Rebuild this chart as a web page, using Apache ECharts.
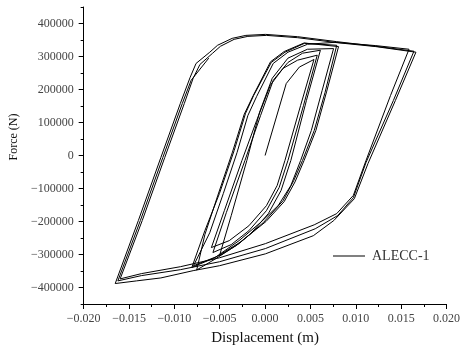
<!DOCTYPE html>
<html><head><meta charset="utf-8">
<script src="https://cdn.jsdelivr.net/npm/echarts@6/dist/echarts.min.js"></script>
<style>html,body{margin:0;padding:0;background:#fff}#c{width:463px;height:353px}</style>
</head><body><div id="c"></div>
<script>
// ---- data (displacement m, force N) ----
const seriesName = 'ALECC-1';
const xTickValues = [-0.02,-0.015,-0.01,-0.005,0,0.005,0.01,0.015,0.02];
const yTickValues = [-400000,-300000,-200000,-100000,0,100000,200000,300000,400000];
const yMinorTickValues = [-450000,-350000,-250000,-150000,-50000,50000,150000,250000,350000,450000];

const initialLoading = [[0,0],[0.00233,218000],[0.00378,268000],[0.00539,291000]];

const smallCycle1 = [[0.00392,152000],[0.00219,-15000],[0.00133,-91000],[0.00015,-152000],[-0.00179,-213000],[-0.00395,-258000],[-0.00592,-279000],
  [-0.00449,-167000],[-0.00255,-15000],[-0.00093,106000],[0.00058,213000],[0.00198,264000],[0.00359,289000],[0.00575,304000]];
const smallCycle2 = [[0.00424,152000],[0.00252,-15000],[0.00155,-97000],[0.00015,-167000],[-0.00179,-228000],[-0.00373,-270000],[-0.00575,-294000],
  [-0.00427,-173000],[-0.00222,-15000],[-0.0005,121000],[0.0009,228000],[0.00252,282000],[0.00413,310000],[0.0061,319000]];
const smallCycle3 = [[0.00456,167000],[0.00284,-15000],[0.00176,-106000],[0.00036,-176000],[-0.00158,-237000],[-0.00319,-273000],[-0.00503,-304000],
  [-0.00373,-182000],[-0.00201,-15000],[-0.00061,131000],[0.00079,234000],[0.00252,295000],[0.00467,322000],[0.00755,324000]];

const midCycle1 = [[0.00629,197000],[0.0051,76000],[0.00392,-15000],[0.00284,-91000],[0.00144,-152000],[-0.0005,-203000],[-0.00287,-258000],[-0.00556,-310000],[-0.00807,-339000],
  [-0.00664,-228000],[-0.00503,-115000],[-0.00341,15000],[-0.00215,128000],[-0.00126,182000],[0.00068,282000],[0.00219,313000],[0.00435,340000],[0.0079,334000]];
const midCycle2 = [[0.00661,191000],[0.00542,76000],[0.00413,-15000],[0.00316,-76000],[0.00198,-137000],[-0.00018,-203000],[-0.00287,-267000],[-0.00546,-313000],[-0.00754,-347000],
  [-0.00664,-240000],[-0.0052,-120000],[-0.0036,10000],[-0.0023,125000],[-0.0013,182000],[0.0006,284000],[0.0021,315000],[0.0043,341000],[0.0081,330000]];
const midCycle3 = [[0.0068,195000],[0.0056,76000],[0.0043,-15000],[0.0033,-80000],[0.0021,-140000],[0.0001,-200000],[-0.0027,-262000],[-0.0053,-306000],[-0.00789,-334000],
  [-0.0061,-234000],[-0.0046,-115000],[-0.00309,9000],[-0.0019,121000],[-0.00093,179000],[0.0009,279000],[0.00252,313000],[0.00467,337000],[0.00769,343000],[0.01221,333000],[0.01587,322000]];

const bigCycle1 = [[0.01383,182000],[0.01113,-15000],[0.00973,-121000],[0.0079,-176000],[0.00542,-210000],[0.00004,-267000],[-0.00503,-310000],[-0.00934,-337000],[-0.01364,-358000],[-0.01598,-374000],
  [-0.01354,-197000],[-0.01106,-6000],[-0.0089,158000],[-0.00793,234000],[-0.00718,276000],[-0.00578,310000],[-0.00492,331000],[-0.00341,352000],[-0.0019,361000],[0.00015,364000],[0.00359,357000],[0.0079,342000],[0.01221,330000],[0.01663,313000]];
const bigCycle2 = [[0.01437,167000],[0.01135,-24000],[0.00984,-131000],[0.00758,-197000],[0.00532,-243000],[0.00004,-298000],[-0.00503,-334000],[-0.00793,-349000],[-0.01149,-371000],[-0.01418,-380000],[-0.01652,-388000],
  [-0.01397,-197000],[-0.01149,-6000],[-0.00934,158000],[-0.00826,237000],[-0.00761,279000],[-0.0061,313000],[-0.00524,334000],[-0.00363,355000],[-0.00212,364000],[0.00004,367000],[0.00359,360000],[0.0079,345000],[0.01221,331000],[0.01641,316000]];
const bigCycle3 = [[0.01415,167000],[0.01113,-21000],[0.00973,-128000],[0.00801,-182000],[0.00553,-222000],[0.00004,-282000],[-0.00503,-322000],[-0.00934,-346000],[-0.01364,-364000],[-0.01623,-380000],
  [-0.01375,-197000],[-0.01127,-6000],[-0.00912,158000],[-0.00815,228000],[-0.00621,295000]];

const curve = [].concat(initialLoading, smallCycle1, smallCycle2, smallCycle3, midCycle1, midCycle2, midCycle3, bigCycle1, bigCycle2, bigCycle3);

// ---- chart ----
const FONT = '"Liberation Serif", "Times New Roman", serif';
const minus = s => String(s).replace('-', '\u2212');
const chart = echarts.init(document.getElementById('c'), null, {renderer: 'canvas'});
chart.setOption({
  animation: false,
  backgroundColor: '#fff',
  grid: {left: 81, right: 11, top: 7, bottom: 49},
  legend: {
    data: [{name: seriesName, icon: 'rect'}], left: 333, top: 249, padding: 0,
    itemWidth: 32, itemHeight: 1, itemGap: 8,
    itemStyle: {color: '#000', borderWidth: 0},
    textStyle: {fontFamily: FONT, fontSize: 14, color: '#333', padding: [0, 0, 0, 2]}
  },
  xAxis: {
    type: 'value', min: -0.02, max: 0.02, interval: 0.005,
    name: 'Displacement (m)', nameLocation: 'middle', nameGap: 27,
    nameTextStyle: {fontFamily: FONT, fontSize: 15, color: '#111'},
    axisLine: {show: true, onZero: false, lineStyle: {color: '#000', width: 1}},
    axisTick: {show: true, inside: false, length: 5, lineStyle: {color: '#000'}, customValues: xTickValues},
    minorTick: {show: true, splitNumber: 2, length: 3, lineStyle: {color: '#000'}},
    axisLabel: {customValues: xTickValues, margin: 9, fontFamily: FONT, fontSize: 12, color: '#444',
      formatter: v => minus(Number(v).toFixed(3))},
    splitLine: {show: false}, minorSplitLine: {show: false}
  },
  yAxis: [{
    type: 'value', min: -450000, max: 450000, position: 'left',
    name: 'Force (N)', nameLocation: 'middle', nameGap: 60,
    nameTextStyle: {fontFamily: FONT, fontSize: 12, color: '#111', padding: [0, 0, 0, 37]},
    axisLine: {show: true, onZero: false, lineStyle: {color: '#000', width: 1}},
    axisTick: {show: true, inside: false, length: 5, lineStyle: {color: '#000'}, customValues: yTickValues},
    axisLabel: {customValues: yTickValues, margin: 10, fontFamily: FONT, fontSize: 12, color: '#444',
      formatter: v => minus(Math.round(v))},
    splitLine: {show: false}
  }, {
    type: 'value', min: -450000, max: 450000, position: 'left', offset: 0,
    axisLine: {show: false, onZero: false},
    axisTick: {show: true, inside: false, length: 3, lineStyle: {color: '#000'}, customValues: yMinorTickValues},
    axisLabel: {show: false}, splitLine: {show: false}
  }],
  series: [{
    name: seriesName, type: 'line', data: curve, yAxisIndex: 0,
    symbol: 'none', smooth: false, clip: false,
    itemStyle: {color: '#000'},
    lineStyle: {color: '#000', width: 1}
  }]
});
</script></body></html>
